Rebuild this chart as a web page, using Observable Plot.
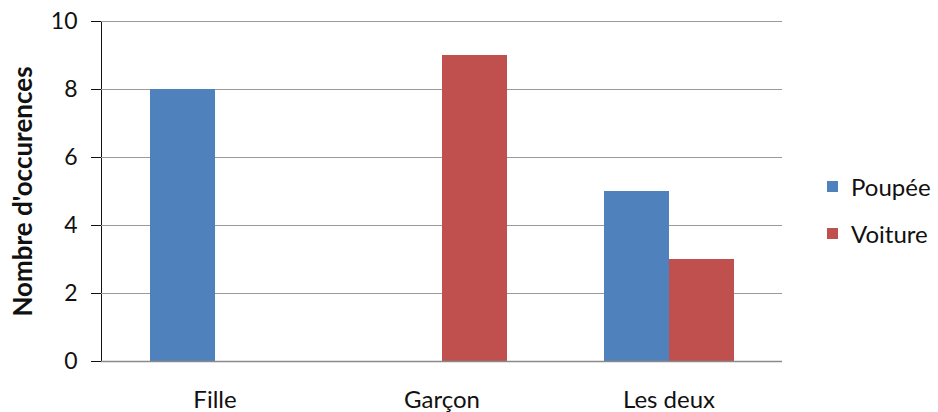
<!DOCTYPE html>
<html>
<head>
<meta charset="utf-8">
<script src="https://cdn.jsdelivr.net/npm/d3@7"></script>
<script src="https://cdn.jsdelivr.net/npm/@observablehq/plot@0.6"></script>
<style>
  html, body { margin: 0; padding: 0; background: #fff; }
  #wrap { position: relative; width: 938px; height: 412px; font-family: Lato, "Open Sans", sans-serif; }
  #legend { position: absolute; left: 827px; top: 173px; font-size: 24px; color: #111; }
  #legend .row { display: flex; align-items: center; height: 26px; margin-bottom: 21px; }
  #legend .sw { width: 11px; height: 11px; margin-right: 13px; }
  svg g[aria-label="y-axis tick label"] text, svg g[aria-label="y-axis tick label"] { font-size: 23px; }
  svg g[aria-label="fx-axis tick label"] text, svg g[aria-label="fx-axis tick label"] { font-size: 24px; }
  svg g[aria-label="y-axis label"] text, svg g[aria-label="y-axis label"] { font-weight: bold; font-size: 26px; }
</style>
</head>
<body>
<div id="wrap"></div>
<script>
const categories = ["Fille", "Garçon", "Les deux"];
const series = ["Poupée", "Voiture"];
const poupee = [8, 0, 5];
const voiture = [0, 9, 3];
const yTicks = [0, 2, 4, 6, 8, 10];
const colors = ["#4F81BD", "#C0504D"];

const data = [];
categories.forEach((c, i) => {
  data.push({cat: c, series: series[0], value: poupee[i]});
  data.push({cat: c, series: series[1], value: voiture[i]});
});

const chart = Plot.plot({
  width: 938,
  height: 412,
  marginLeft: 100,
  marginRight: 155,
  marginTop: 21,
  marginBottom: 51,
  style: {fontFamily: "Lato, 'Open Sans', sans-serif", fontSize: "20px", color: "#111"},
  fx: {domain: categories, padding: 0, axis: "bottom", tickSize: 0, tickPadding: 29, label: null},
  x: {domain: series, paddingInner: 0, paddingOuter: 0.725, axis: null},
  y: {domain: [0, 10], ticks: yTicks, line: true, tickSize: 10, tickPadding: 14,
      label: "Nombre d'occurences", labelAnchor: "center", labelArrow: "none", labelOffset: 88},
  color: {domain: series, range: colors},
  marks: [
    Plot.ruleY(yTicks, {stroke: "#9a9a9a", strokeWidth: 1}),
    Plot.barY(data, {fx: "cat", x: "series", y: "value", fill: "series"}),
    Plot.ruleY([0], {stroke: "#8a8a8a", strokeWidth: 1.5})
  ]
});
document.getElementById("wrap").appendChild(chart);

const legend = document.createElement("div");
legend.id = "legend";
series.forEach((s, i) => {
  const row = document.createElement("div");
  row.className = "row";
  const sw = document.createElement("span");
  sw.className = "sw";
  sw.style.background = colors[i];
  const t = document.createElement("span");
  t.textContent = s;
  row.appendChild(sw);
  row.appendChild(t);
  legend.appendChild(row);
});
document.getElementById("wrap").appendChild(legend);
</script>
</body>
</html>
